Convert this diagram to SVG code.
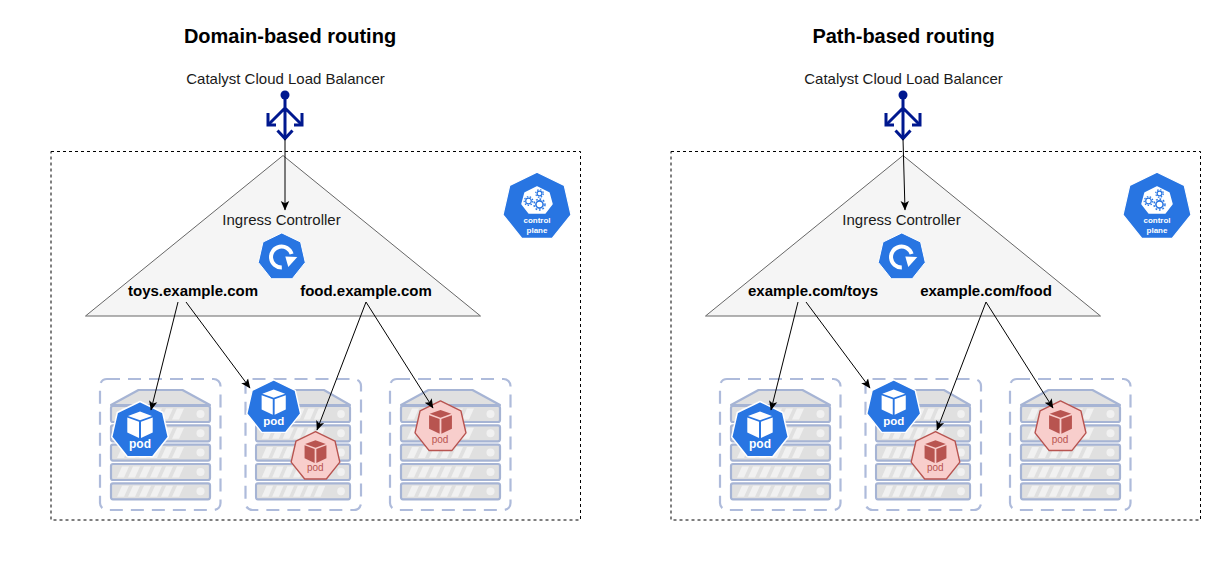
<svg xmlns="http://www.w3.org/2000/svg" xmlns:xlink="http://www.w3.org/1999/xlink" width="1230" height="580" viewBox="0 0 1230 580">
<style>
text{font-family:"Liberation Sans",Arial,sans-serif;text-anchor:middle}
.title{font-size:20px;font-weight:bold;fill:#000}
.lbl{font-size:15px;fill:#1a1a1a}
.rt{font-size:15px;font-weight:bold;fill:#000}
.bp{font-size:12px;font-weight:bold;fill:#fff}
.rp{font-size:10px;fill:#b85450}
.cp{font-size:8px;font-weight:bold;fill:#fff}
.frame{fill:none;stroke:#000;stroke-width:1;stroke-dasharray:3 3}
.tri{fill:#f5f5f5;stroke:#666;stroke-width:1}
.box{fill:none;stroke:#aebbdb;stroke-width:2.2;stroke-dasharray:13 8}
.edge{fill:none;stroke:#000;stroke-width:1;marker-end:url(#ah)}
.lbi{fill:none;stroke:#00188f;stroke-width:3}
</style>
<defs>
<marker id="ah" markerUnits="userSpaceOnUse" markerWidth="11" markerHeight="10" refX="9" refY="5" orient="auto">
<path d="M0 0.8L9.5 5L0 9.2L2.2 5Z" fill="#000"/>
</marker>
<polygon id="hept" points="0,-29 22.7,-18 28.3,6.5 12.6,26.2 -12.6,26.2 -28.3,6.5 -22.7,-18"/>
<g id="cube">
<polygon points="0,-19 12,-14.6 0,-10.2 -12,-14.6"/>
<polygon points="-12.7,-13 -1,-8.8 -1,7.5 -12.7,2"/>
<polygon points="12.7,-13 1,-8.8 1,7.5 12.7,2"/>
</g>
<g id="row">
<rect x="0" y="0" width="99" height="16" rx="2" fill="#e0e0e0" stroke="#a6b4d4" stroke-width="2.2"/>
<path d="M6 13.5L11 2.5H18L13 13.5ZM17 13.5L22 2.5H29L24 13.5ZM28 13.5L33 2.5H40L35 13.5ZM39 13.5L44 2.5H51L46 13.5ZM50 13.5L55 2.5H62L57 13.5ZM61 13.5L66 2.5H73L68 13.5Z" fill="#f1f1f1"/>
<circle cx="89.5" cy="8" r="4" fill="#f1f1f1"/>
</g>
<g id="server">
<path d="M0 405L27.5 390H71.5L99 405Z" fill="#e0e0e0" stroke="#a6b4d4" stroke-width="2.2" stroke-linejoin="round"/>
<use href="#row" xlink:href="#row" y="406"/>
<use href="#row" xlink:href="#row" y="425.3"/>
<use href="#row" xlink:href="#row" y="444.6"/>
<use href="#row" xlink:href="#row" y="464"/>
<use href="#row" xlink:href="#row" y="483.3"/>
</g>
<g id="podblue">
<use href="#hept" xlink:href="#hept" fill="#2875e2" stroke="#fff" stroke-width="1.5" stroke-linejoin="round"/>
<use href="#cube" xlink:href="#cube" fill="#fff"/>
</g>
<g id="podred">
<use href="#hept" xlink:href="#hept" fill="#f8cecc" stroke="#b85450" stroke-width="1.6" stroke-linejoin="round"/>
<use href="#cube" xlink:href="#cube" fill="#b85450"/>
</g>
<g id="lbicon" class="lbi">
<circle cx="0" cy="95" r="4.5" fill="#00188f" stroke="none"/>
<path d="M0 97V138M0 108L-16 124M0 108L16 124"/>
<path d="M-7.5 130.5L0 138.5L7.5 130.5M-17 113V125H-9M17 113V125H9"/>
</g>
<g id="ingicon">
<use href="#hept" xlink:href="#hept" transform="scale(.83)" fill="#2875e2" stroke="#fff" stroke-width="1.2"/>
<path d="M0 10.5A10.5 10.5 0 1 1 9.8 -3" fill="none" stroke="#fff" stroke-width="4"/>
<polygon points="3.5,-0.5 15.5,0 6.5,10" fill="#fff"/>
</g>
<g id="cpicon">
<use href="#hept" xlink:href="#hept" transform="scale(1.2)" fill="#2875e2" stroke="#fff" stroke-width="1"/>
<polygon points="0,-20 12,-14 15,-3 8,6 -8,6 -15,-3 -12,-14" fill="#fff" stroke="#fff" stroke-width="1.5" stroke-linejoin="round"/>
<g fill="none" stroke="#2875e2">
<circle cx="2.5" cy="-13.5" r="2.4" stroke-width="1.2"/><circle cx="2.5" cy="-13.5" r="3.8" stroke-width="1.2" stroke-dasharray="1.5 1.5"/>
<circle cx="-8.5" cy="-6" r="2.8" stroke-width="1.2"/><circle cx="-8.5" cy="-6" r="4.3" stroke-width="1.2" stroke-dasharray="1.5 1.5"/>
<circle cx="2.5" cy="-2.5" r="3.6" stroke-width="1.6"/><circle cx="2.5" cy="-2.5" r="5.5" stroke-width="1.4" stroke-dasharray="1.8 1.8"/>
</g>
</g>
</defs>
<rect width="1230" height="580" fill="#fff"/>

<text class="title" x="290" y="43">Domain-based routing</text>
<text class="title" x="903.5" y="43">Path-based routing</text>

<g id="frame-left"><rect class="frame" x="51" y="151.5" width="529.5" height="368.5"/></g>
<g id="frame-right"><rect class="frame" x="671" y="151.5" width="529.5" height="368.5"/></g>

<g id="lb-left"><use href="#lbicon" xlink:href="#lbicon" x="285"/><text class="lbl" x="285.5" y="84">Catalyst Cloud Load Balancer</text></g>
<g id="lb-right"><use href="#lbicon" xlink:href="#lbicon" x="903"/><text class="lbl" x="903.5" y="84">Catalyst Cloud Load Balancer</text></g>

<g id="ingress-left">
<polygon class="tri" points="283,155.5 480.5,316 85.5,316"/>
<text class="lbl" x="281.5" y="225">Ingress Controller</text>
<use href="#ingicon" xlink:href="#ingicon" x="281.8" y="257"/>
<text class="rt" x="193" y="296">toys.example.com</text>
<text class="rt" x="366" y="296">food.example.com</text>
</g>
<g id="ingress-right">
<polygon class="tri" points="903,155.5 1100.5,316 705.5,316"/>
<text class="lbl" x="901.5" y="225">Ingress Controller</text>
<use href="#ingicon" xlink:href="#ingicon" x="901.8" y="257"/>
<text class="rt" x="813" y="296">example.com/toys</text>
<text class="rt" x="986" y="296">example.com/food</text>
</g>

<g id="control-plane-left"><use href="#cpicon" xlink:href="#cpicon" x="537" y="207"/><text class="cp" x="537" y="222.5">control</text><text class="cp" x="537" y="233">plane</text></g>
<g id="control-plane-right"><use href="#cpicon" xlink:href="#cpicon" x="1157" y="207"/><text class="cp" x="1157" y="222.5">control</text><text class="cp" x="1157" y="233">plane</text></g>

<g id="node-l1"><rect class="box" x="100" y="379" width="120.5" height="131" rx="7"/><use href="#server" xlink:href="#server" x="111"/></g>
<g id="node-l2"><rect class="box" x="245.5" y="379" width="115.5" height="131" rx="7"/><use href="#server" xlink:href="#server" transform="translate(256 0) scale(.95 1)"/></g>
<g id="node-l3"><rect class="box" x="390" y="379" width="120.5" height="131" rx="7"/><use href="#server" xlink:href="#server" x="401"/></g>
<g id="node-r1"><rect class="box" x="720" y="379" width="120.5" height="131" rx="7"/><use href="#server" xlink:href="#server" x="731"/></g>
<g id="node-r2"><rect class="box" x="865.5" y="379" width="115.5" height="131" rx="7"/><use href="#server" xlink:href="#server" transform="translate(876 0) scale(.95 1)"/></g>
<g id="node-r3"><rect class="box" x="1010" y="379" width="120.5" height="131" rx="7"/><use href="#server" xlink:href="#server" x="1021"/></g>

<g id="pod-l1"><use href="#podblue" xlink:href="#podblue" transform="translate(140 430.5)"/><text class="bp" x="140" y="448">pod</text></g>
<g id="pod-l2"><use href="#podblue" xlink:href="#podblue" transform="translate(273.7 407.5) scale(.95)"/><text class="bp" x="273.7" y="424.5" style="font-size:11.5px">pod</text></g>
<g id="pod-l3"><use href="#podred" xlink:href="#podred" transform="translate(315.5 456.5) scale(.86)"/><text class="rp" x="315.3" y="470.5">pod</text></g>
<g id="pod-l4"><use href="#podred" xlink:href="#podred" transform="translate(440.5 427) scale(.9)"/><text class="rp" x="440" y="442.5">pod</text></g>
<g id="pod-r1"><use href="#podblue" xlink:href="#podblue" transform="translate(760 430.5)"/><text class="bp" x="760" y="448">pod</text></g>
<g id="pod-r2"><use href="#podblue" xlink:href="#podblue" transform="translate(893.7 407.5) scale(.95)"/><text class="bp" x="893.7" y="424.5" style="font-size:11.5px">pod</text></g>
<g id="pod-r3"><use href="#podred" xlink:href="#podred" transform="translate(935.5 456.5) scale(.86)"/><text class="rp" x="935.3" y="470.5">pod</text></g>
<g id="pod-r4"><use href="#podred" xlink:href="#podred" transform="translate(1060.5 427) scale(.9)"/><text class="rp" x="1060" y="442.5">pod</text></g>

<g id="connectors">
<line class="edge" x1="285" y1="139" x2="285" y2="210"/>
<line class="edge" x1="178" y1="302" x2="151" y2="410"/>
<line class="edge" x1="186" y1="302" x2="250" y2="388"/>
<line class="edge" x1="366" y1="302" x2="317" y2="430"/>
<line class="edge" x1="366" y1="302" x2="433" y2="408"/>
<line class="edge" x1="903" y1="139" x2="905" y2="210"/>
<line class="edge" x1="798" y1="302" x2="771" y2="410"/>
<line class="edge" x1="806" y1="302" x2="870" y2="388"/>
<line class="edge" x1="986" y1="302" x2="937" y2="430"/>
<line class="edge" x1="986" y1="302" x2="1053" y2="408"/>
</g>
</svg>
